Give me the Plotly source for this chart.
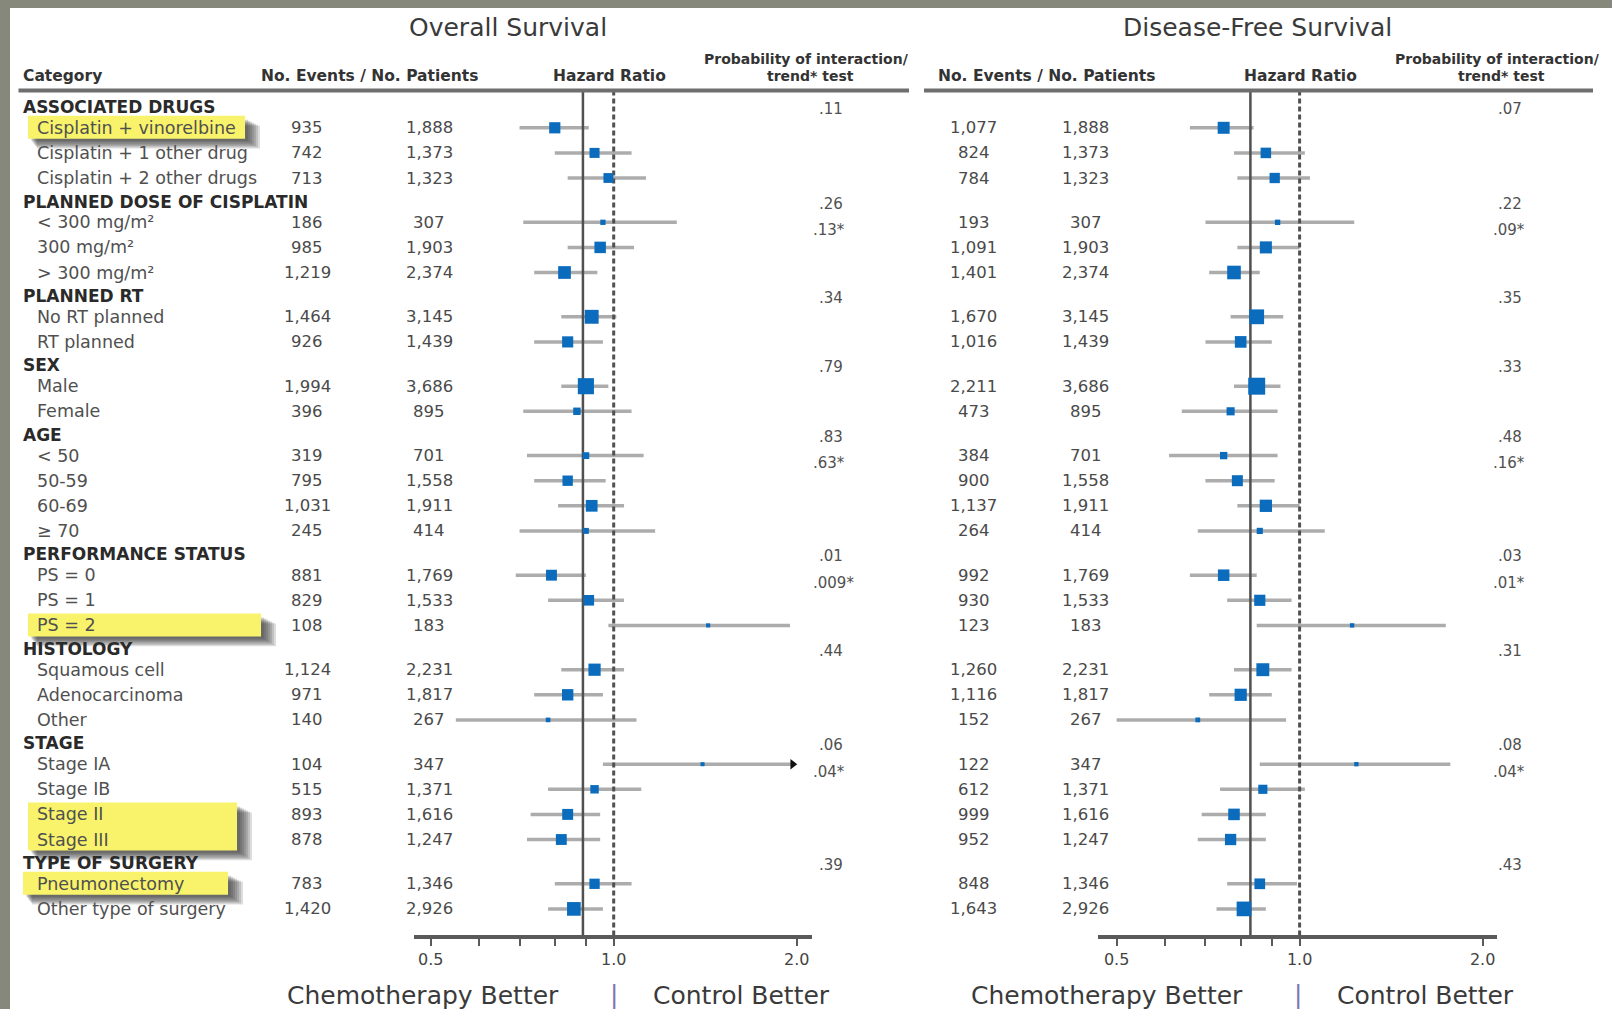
import math
import plotly.graph_objects as go

# ---------------- data ----------------
group_names = [
    "ASSOCIATED DRUGS", "PLANNED DOSE OF CISPLATIN", "PLANNED RT", "SEX", "AGE",
    "PERFORMANCE STATUS", "HISTOLOGY", "STAGE", "TYPE OF SURGERY",
]
group_items = [
    ["Cisplatin + vinorelbine", "Cisplatin + 1 other drug", "Cisplatin + 2 other drugs"],
    ["< 300 mg/m²", "300 mg/m²", "> 300 mg/m²"],
    ["No RT planned", "RT planned"],
    ["Male", "Female"],
    ["< 50", "50-59", "60-69", "≥ 70"],
    ["PS = 0", "PS = 1", "PS = 2"],
    ["Squamous cell", "Adenocarcinoma", "Other"],
    ["Stage IA", "Stage IB", "Stage II", "Stage III"],
    ["Pneumonectomy", "Other type of surgery"],
]
patients = [1888, 1373, 1323, 307, 1903, 2374, 3145, 1439, 3686, 895, 701, 1558, 1911, 414,
            1769, 1533, 183, 2231, 1817, 267, 347, 1371, 1616, 1247, 1346, 2926]

# Overall survival
os_events = [935, 742, 713, 186, 985, 1219, 1464, 926, 1994, 396, 319, 795, 1031, 245,
             881, 829, 108, 1124, 971, 140, 104, 515, 893, 878, 783, 1420]
os_hr = [0.80, 0.93, 0.98, 0.96, 0.95, 0.83, 0.92, 0.84, 0.90, 0.87, 0.90, 0.84, 0.92, 0.90,
         0.79, 0.91, 1.43, 0.93, 0.84, 0.78, 1.40, 0.93, 0.84, 0.82, 0.93, 0.86]
os_lo = [0.70, 0.80, 0.84, 0.71, 0.84, 0.74, 0.82, 0.74, 0.82, 0.71, 0.72, 0.74, 0.81, 0.70,
         0.69, 0.78, 0.98, 0.82, 0.74, 0.55, 0.96, 0.78, 0.73, 0.72, 0.80, 0.78]
os_hi = [0.91, 1.07, 1.13, 1.27, 1.08, 0.94, 1.01, 0.96, 0.98, 1.07, 1.12, 0.97, 1.04, 1.17,
         0.90, 1.04, 1.95, 1.04, 0.96, 1.09, 1.97, 1.11, 0.95, 0.95, 1.07, 0.96]
os_truncated = ["Stage IA"]
os_p_interaction = [".11", ".26", ".34", ".79", ".83", ".01", ".44", ".06", ".39"]
os_p_trend = {"PLANNED DOSE OF CISPLATIN": ".13*", "AGE": ".63*",
              "PERFORMANCE STATUS": ".009*", "STAGE": ".04*"}
overall_hr_os = 0.89

# Disease-free survival
dfs_events = [1077, 824, 784, 193, 1091, 1401, 1670, 1016, 2211, 473, 384, 900, 1137, 264,
              992, 930, 123, 1260, 1116, 152, 122, 612, 999, 952, 848, 1643]
dfs_hr = [0.75, 0.88, 0.91, 0.92, 0.88, 0.78, 0.85, 0.80, 0.85, 0.77, 0.75, 0.79, 0.88, 0.86,
          0.75, 0.86, 1.22, 0.87, 0.80, 0.68, 1.24, 0.87, 0.78, 0.77, 0.86, 0.81]
dfs_lo = [0.66, 0.78, 0.79, 0.70, 0.79, 0.71, 0.77, 0.70, 0.78, 0.64, 0.61, 0.70, 0.79, 0.68,
          0.66, 0.76, 0.85, 0.78, 0.71, 0.50, 0.86, 0.74, 0.69, 0.68, 0.76, 0.73]
dfs_hi = [0.84, 1.02, 1.04, 1.23, 1.00, 0.86, 0.94, 0.90, 0.93, 0.92, 0.92, 0.91, 1.00, 1.10,
          0.85, 0.97, 1.74, 0.97, 0.90, 0.95, 1.77, 1.02, 0.88, 0.88, 0.99, 0.88]
dfs_truncated = []
dfs_p_interaction = [".07", ".22", ".35", ".33", ".48", ".03", ".31", ".08", ".43"]
dfs_p_trend = {"PLANNED DOSE OF CISPLATIN": ".09*", "AGE": ".16*",
               "PERFORMANCE STATUS": ".01*", "STAGE": ".04*"}
overall_hr_dfs = 0.83

highlighted = ["Cisplatin + vinorelbine", "PS = 2", "Stage II", "Stage III", "Pneumonectomy"]

tick_vals = [0.5, 0.6, 0.7, 0.8, 0.9, 1.0, 2.0]
tick_text = ["0.5", "", "", "", "", "1.0", "2.0"]

# ---------------- layout geometry (pixels) ----------------
W, H = 1612, 1009
FIRST_ROW_PX = 107.0
GAP_HEAD_ITEM, GAP_ITEM_ITEM, GAP_ITEM_HEAD = 20.8, 25.1, 23.5
RULE_Y_PX = 90.5
AXIS_Y_PX = 936.5
DOUBLING_PX = 183.0
FONT = "DejaVu Sans"

# row layout: group heading followed by its items; the y axis runs in pixels
rows = []          # (kind, text, group index, y position)
y = FIRST_ROW_PX
prev = None
for g, (name, items) in enumerate(zip(group_names, group_items)):
    if prev is not None:
        y += GAP_ITEM_HEAD
    rows.append(("head", name, g, y))
    prev = "head"
    for it in items:
        y += GAP_HEAD_ITEM if prev == "head" else GAP_ITEM_ITEM
        rows.append(("item", it, g, y))
        prev = "item"
head_row = {r[2]: r[3] for r in rows if r[0] == "head"}
item_row = [r[3] for r in rows if r[0] == "item"]
item_group = [r[2] for r in rows if r[0] == "item"]
item_labels = [r[1] for r in rows if r[0] == "item"]


def px(xp):
    return xp / W


def py(yp):
    return 1 - yp / H


panels = [
    dict(axis="x", key="xaxis", events=os_events, hr=os_hr, lo=os_lo, hi=os_hi,
         truncated=os_truncated, p_int=os_p_interaction, p_trend=os_p_trend,
         overall=overall_hr_os, title="Overall Survival", title_x=508,
         ev_x=307, pt_x=429, p_x=817, ptr_x=811,
         hdr_ev_x=369, hdr_hr_x=609, hdr_p_x=806, rule=(18.5, 909),
         axis_px=(414, 812), one_px=613.7,
         better=(423, 613.7, 741)),
    dict(axis="x2", key="xaxis2", events=dfs_events, hr=dfs_hr, lo=dfs_lo, hi=dfs_hi,
         truncated=dfs_truncated, p_int=dfs_p_interaction, p_trend=dfs_p_trend,
         overall=overall_hr_dfs, title="Disease-Free Survival", title_x=1257.5,
         ev_x=973.5, pt_x=1085.6, p_x=1496, ptr_x=1491,
         hdr_ev_x=1046, hdr_hr_x=1300, hdr_p_x=1497, rule=(924, 1593),
         axis_px=(1098, 1496.5), one_px=1299.6,
         better=(1107, 1297.5, 1425.5)),
]

fig = go.Figure()
shapes = []
annotations = []

# white page over the grey frame
shapes.append(dict(type="rect", xref="paper", yref="paper", x0=px(10), x1=1.0, y0=0.0, y1=py(8),
                   fillcolor="white", line=dict(width=0), layer="below"))


def ann(text, x, y, size=17, color="#4a4a4a", xanchor="center", yref="y", xref="paper"):
    annotations.append(dict(text=text, x=x, y=y, xref=xref, yref=yref, showarrow=False,
                            xanchor=xanchor, yanchor="middle",
                            font=dict(family=FONT, size=size, color=color)))


# highlight boxes behind selected category labels (adjacent rows of one group share a box)
box_x = {"Cisplatin + vinorelbine": (28, 245), "PS = 2": (28, 261), "Stage II": (28, 237),
         "Stage III": (28, 237), "Pneumonectomy": (23, 228)}
runs = []
for idx, lbl in enumerate(item_labels):
    if lbl in highlighted:
        last = runs[-1] if runs else None
        if last and last["end"] == idx - 1 and item_group[last["end"]] == item_group[idx]:
            last["end"] = idx
        else:
            runs.append({"start": idx, "end": idx})
for run in runs:
    x0, x1 = box_x[item_labels[run["start"]]]
    y0 = item_row[run["start"]] - 12
    y1 = item_row[run["end"]] + 11
    for j in range(7):
        shapes.append(dict(type="rect", xref="paper", yref="paper",
                           x0=px(x0 + 3 + j), x1=px(x1 + 3 + j * 2.0),
                           y0=py(y1 + 2 + j * 1.3), y1=py(y0 + 4 + j),
                           fillcolor="rgba(45,45,45,0.16)", line=dict(width=0), layer="below"))
    shapes.append(dict(type="rect", xref="paper", yref="paper", x0=px(x0), x1=px(x1),
                       y0=py(y1), y1=py(y0), fillcolor="#f8f36a", line=dict(width=0),
                       layer="below"))

# category column
ann("<b>Category</b>", px(20.6), py(76), size=15.5, color="#333", xanchor="left", yref="paper")
for kind, text, g, yy in rows:
    if kind == "head":
        ann("<b>" + text + "</b>", px(20.6), yy, size=17, color="#2a2a2a", xanchor="left")
    else:
        ann(text, px(35), yy, size=17.5, color="#505050", xanchor="left")

axes_layout = {}

for p in panels:
    # titles and column headers
    ann(p["title"], px(p["title_x"]), py(27), size=25, color="#3a3a3a", yref="paper")
    ann("<b>No. Events / No. Patients</b>", px(p["hdr_ev_x"]), py(76), size=15.5,
        color="#333", yref="paper")
    ann("<b>Hazard Ratio</b>", px(p["hdr_hr_x"]), py(76), size=15.5, color="#333", yref="paper")
    ann("<b>Probability of interaction/</b>", px(p["hdr_p_x"]), py(58.5), size=14,
        color="#333", yref="paper")
    ann("<b>trend* test</b>", px(p["hdr_p_x"] + 4), py(76), size=14, color="#333",
        yref="paper")
    shapes.append(dict(type="line", xref="paper", yref="paper", x0=px(p["rule"][0]),
                       x1=px(p["rule"][1]), y0=py(RULE_Y_PX), y1=py(RULE_Y_PX),
                       line=dict(color="#6e6e6e", width=4)))

    # events / patients columns
    for kk, r in enumerate(item_row):
        ann(f"{p['events'][kk]:,}", px(p["ev_x"]), r, size=16.5, color="#4a4a4a")
        ann(f"{patients[kk]:,}", px(p["pt_x"]), r, size=16.5, color="#4a4a4a")

    # interaction and trend tests
    for g, name in enumerate(group_names):
        ann(p["p_int"][g], px(p["p_x"]), head_row[g] + 2, size=15, color="#505050",
            xanchor="left")
        if name in p["p_trend"]:
            first_item = item_row[item_labels.index(group_items[g][0])]
            ann(p["p_trend"][name], px(p["ptr_x"]), first_item + 7.5, size=15,
                color="#505050", xanchor="left")

    # confidence intervals
    xs, ys = [], []
    for kk, r in enumerate(item_row):
        xs += [p["lo"][kk], p["hi"][kk], None]
        ys += [r, r, None]
    fig.add_trace(go.Scatter(x=xs, y=ys, mode="lines", xaxis=p["axis"], yaxis="y",
                             line=dict(color="#acacac", width=3.5), hoverinfo="skip",
                             cliponaxis=False))

    # overall effect (solid) and no-effect line (dashed)
    fig.add_trace(go.Scatter(x=[p["overall"], p["overall"]], y=[RULE_Y_PX, AXIS_Y_PX],
                             mode="lines", xaxis=p["axis"], yaxis="y",
                             line=dict(color="#505050", width=2.5), hoverinfo="skip",
                             cliponaxis=False))
    fig.add_trace(go.Scatter(x=[1.0, 1.0], y=[RULE_Y_PX, AXIS_Y_PX], mode="lines",
                             xaxis=p["axis"], yaxis="y",
                             line=dict(color="#505050", width=3, dash="5px,3px"),
                             hoverinfo="skip", cliponaxis=False))

    # point estimates, sized by number of events
    fig.add_trace(go.Scatter(x=p["hr"], y=item_row, mode="markers", xaxis=p["axis"],
                             yaxis="y", hoverinfo="skip", cliponaxis=False,
                             marker=dict(symbol="square", color="#0b6cbd", opacity=1,
                                         size=[0.35 * math.sqrt(e) + 0.5 for e in p["events"]],
                                         line=dict(width=0))))

    # arrows for intervals running past the axis
    tx = [p["hi"][item_labels.index(t)] for t in p["truncated"]]
    ty = [item_row[item_labels.index(t)] for t in p["truncated"]]
    if tx:
        fig.add_trace(go.Scatter(x=tx, y=ty, mode="markers", xaxis=p["axis"], yaxis="y",
                                 hoverinfo="skip", cliponaxis=False,
                                 marker=dict(symbol="triangle-right", color="#111", opacity=1,
                                             size=9, line=dict(width=0))))

    # direction labels under the axis
    cb, bar, ctl = p["better"]
    ann("Chemotherapy Better", px(cb), py(995), size=25, color="#3a3a3a", yref="paper")
    ann("|", px(bar), py(994), size=25, color="#7f74b0", yref="paper")
    ann("Control Better", px(ctl), py(995), size=25, color="#3a3a3a", yref="paper")

    a0, a1 = p["axis_px"]
    lo_v = 2 ** ((a0 - p["one_px"]) / DOUBLING_PX)
    hi_v = 2 ** ((a1 - p["one_px"]) / DOUBLING_PX)
    axes_layout[p["key"]] = dict(
        type="log", domain=[px(a0), px(a1)],
        range=[math.log10(lo_v), math.log10(hi_v)],
        anchor="free", position=py(AXIS_Y_PX),
        showline=True, linecolor="#5a5a5a", linewidth=3.5,
        ticks="outside", ticklen=8, tickwidth=2, tickcolor="#5a5a5a",
        tickvals=tick_vals, ticktext=tick_text,
        tickfont=dict(family=FONT, size=16, color="#444"),
        showgrid=False, zeroline=False, fixedrange=True,
    )

fig.update_layout(
    width=W, height=H,
    margin=dict(l=0, r=0, t=0, b=0, pad=0),
    paper_bgcolor="#85887b", plot_bgcolor="rgba(0,0,0,0)",
    showlegend=False, hovermode=False,
    yaxis=dict(domain=[0, 1], range=[H, 0], visible=False, fixedrange=True),
    shapes=shapes, annotations=annotations,
    **axes_layout,
)

fig.write_html("out.html")
